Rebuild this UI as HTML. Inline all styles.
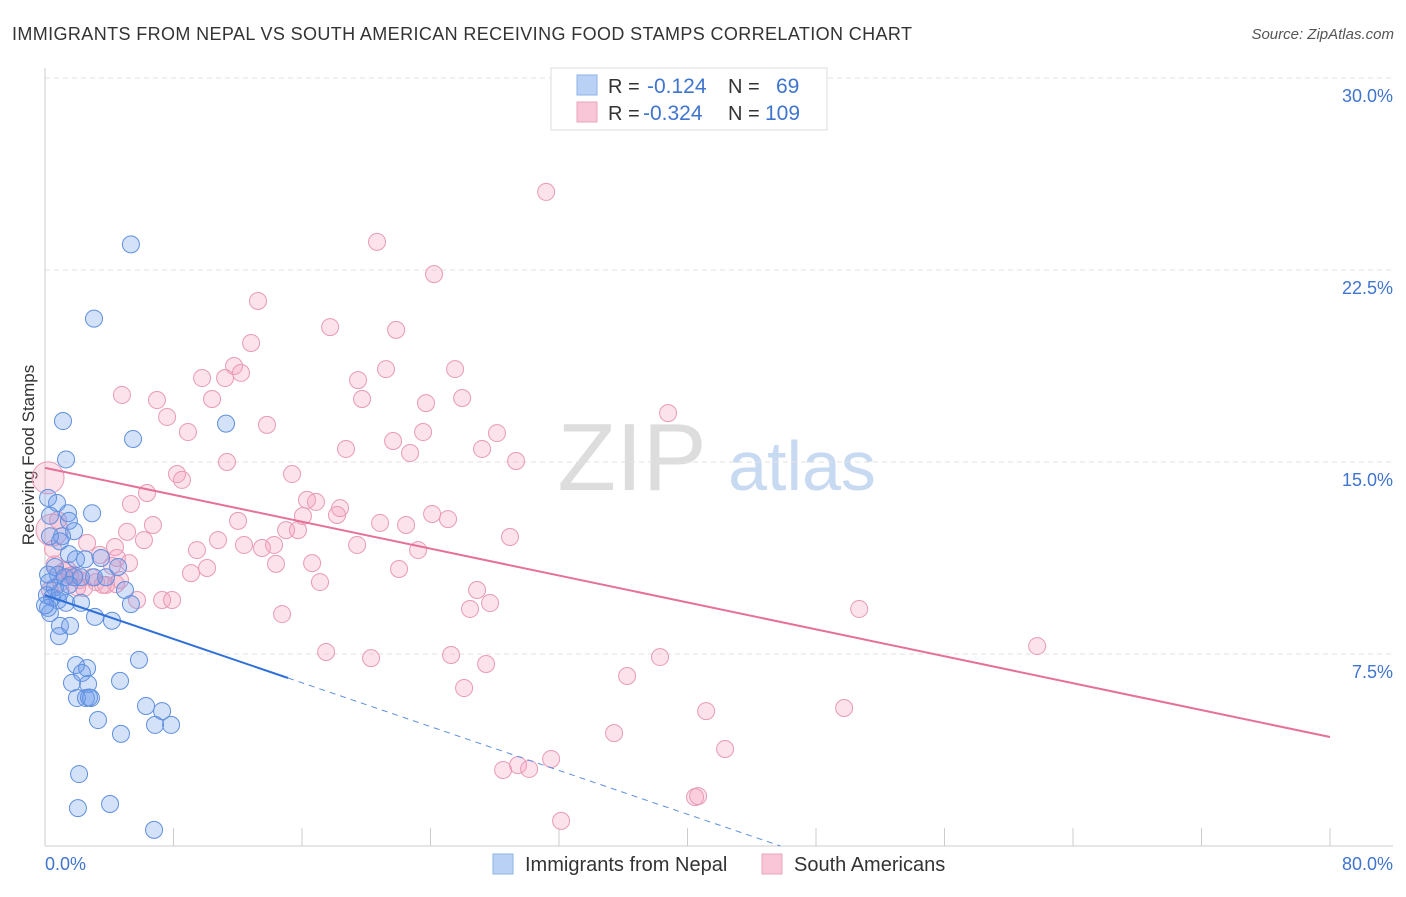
<!DOCTYPE html>
<html><head><meta charset="utf-8"><style>
body{margin:0;background:#fff;font-family:"Liberation Sans",sans-serif;}
svg text{font-family:"Liberation Sans",sans-serif;}
</style></head><body>
<svg id="c" width="1406" height="892" xmlns="http://www.w3.org/2000/svg">
<text x="12" y="40" font-size="18" fill="#333" textLength="900">IMMIGRANTS FROM NEPAL VS SOUTH AMERICAN RECEIVING FOOD STAMPS CORRELATION CHART</text>
<text x="1394" y="39" font-size="15" fill="#555" font-style="italic" text-anchor="end">Source: ZipAtlas.com</text>
<text x="0" y="0" transform="translate(34,455) rotate(-90)" font-size="17" fill="#333" text-anchor="middle">Receiving Food Stamps</text>
<g><text x="632" y="490" font-size="96" fill="#ddd" font-family="Liberation Serif" text-anchor="middle">ZIP</text><text x="802" y="490" font-size="70" fill="#c8daf2" text-anchor="middle">atlas</text></g>
<g id="grid"></g>
<g id="pts"></g>
<g id="lines"></g>
<g>
<rect x="551" y="68" width="276" height="62" fill="#fff" stroke="#ddd"/>
<rect x="577" y="75" width="20" height="20" fill="#b9d1f5" stroke="#8fb2e8"/>
<rect x="577" y="102" width="20" height="20" fill="#f8c6d6" stroke="#eca3bd"/>
<text x="608" y="93" font-size="20" fill="#333">R = </text><text x="647" y="93" font-size="21" fill="#3f74cf">-0.124</text>
<text x="728" y="93" font-size="20" fill="#333">N = </text><text x="776" y="93" font-size="21" fill="#3f74cf">69</text>
<text x="608" y="120" font-size="20" fill="#333">R = </text><text x="643" y="120" font-size="21" fill="#3f74cf">-0.324</text>
<text x="728" y="120" font-size="20" fill="#333">N = </text><text x="765" y="120" font-size="21" fill="#3f74cf">109</text>
</g>
<g>
<rect x="493" y="854" width="20" height="20" fill="#b9d1f5" stroke="#8fb2e8"/>
<text x="525" y="871" font-size="20" fill="#333">Immigrants from Nepal</text>
<rect x="762" y="854" width="20" height="20" fill="#f8c6d6" stroke="#eca3bd"/>
<text x="794" y="871" font-size="20" fill="#333">South Americans</text>
</g>
</svg>
<script>
const yTicks=[7.5,15,22.5,30];
const yTickLabels=["7.5%","15.0%","22.5%","30.0%"];
const xTickVals=[0,8,16,24,32,40,48,56,64,72,80];
const xEndLabels=["0.0%","80.0%"];
const nepalX=[5.35,3.05,1.12,11.27,5.48,1.31,0.19,0.75,0.31,1.43,2.93,1.49,1.81,1.06,0.93,0.31,1.49,1.93,2.49,3.49,0.62,4.55,0.81,1.25,1.81,2.24,3.05,3.8,0.25,0.62,4.98,0.12,0.44,0.81,1.31,2.24,5.35,0.31,3.11,4.17,0.93,1.56,0.87,5.85,1.93,2.62,2.3,1.68,2.68,4.67,1.99,2.55,2.86,6.29,7.29,3.3,6.85,7.85,4.73,2.12,2.05,4.05,6.79,0.19,0.0,0.19,0.93,2.74,1.5];
const nepalY=[23.5,20.6,16.6,16.5,15.9,15.1,13.6,13.4,12.9,13.0,13.0,12.7,12.3,12.1,11.9,12.1,11.4,11.2,11.2,11.25,10.9,10.9,10.6,10.5,10.5,10.5,10.5,10.5,10.3,10.1,10.0,9.8,9.7,9.6,9.5,9.5,9.45,9.1,8.95,8.8,8.6,8.6,8.2,7.27,7.07,6.95,6.76,6.37,6.33,6.45,5.78,5.78,5.78,5.47,5.27,4.92,4.73,4.73,4.38,2.81,1.48,1.64,0.63,9.3,9.4,10.6,9.9,5.8,10.2];
const saX=[31.2,20.67,24.22,13.26,17.75,21.86,12.83,11.77,9.78,11.21,12.2,4.79,6.97,19.49,21.23,25.53,19.74,10.4,23.72,25.97,38.79,7.6,8.9,13.82,23.54,28.14,21.67,18.74,27.21,22.73,11.33,29.33,8.22,8.53,15.38,6.35,5.35,16.31,16.87,18.37,18.18,24.1,25.09,12.02,6.72,5.11,20.86,22.48,15.01,15.75,16.06,28.95,4.36,6.16,2.62,10.77,12.39,13.51,14.26,19.43,23.23,9.46,3.42,4.48,4.17,5.23,14.38,16.63,22.04,10.09,9.09,1.18,1.56,2.18,3.18,3.8,4.42,4.67,2.43,17.12,26.9,5.73,7.29,7.91,27.71,26.46,14.76,50.69,61.77,17.5,20.3,25.28,38.29,27.46,36.24,26.09,41.16,49.75,35.43,42.34,31.51,29.45,28.52,30.14,40.47,40.66,32.13,0.81,1.8,2.9,3.6,0.6,1.0,1.4,2.0,0.5,0.3];
const saY=[25.55,23.6,22.34,21.29,20.27,20.16,19.65,18.75,18.28,18.28,18.48,17.62,17.42,18.2,18.63,18.63,17.46,17.46,17.3,17.5,16.91,16.76,16.17,16.45,16.17,16.13,15.82,15.51,15.51,15.35,15.0,15.04,14.53,14.3,14.53,13.79,13.36,13.52,13.44,13.2,12.93,12.97,12.77,12.7,12.54,12.27,12.62,12.54,12.34,12.34,12.89,12.07,11.68,11.95,11.84,11.95,11.76,11.64,11.76,11.76,11.56,11.56,11.37,11.25,10.94,11.05,11.02,11.05,10.82,10.86,10.66,10.74,10.55,10.39,10.31,10.2,10.23,10.39,10.08,10.31,10.0,9.61,9.61,9.61,9.49,9.26,9.06,9.26,7.81,7.58,7.34,7.46,7.38,7.11,6.64,6.17,5.27,5.39,4.41,3.79,3.4,3.16,2.97,3.01,1.91,1.95,0.98,12.73,10.6,10.5,10.2,11.0,10.3,10.8,10.1,11.6,10.0];
const saBigX=[0.19,0.44];
const saBigY=[14.38,12.34];
const nepalTrend=[9.8,-0.214];
const saTrend=[14.77,-0.1314];
const X0=45,X1=1330,Y0=846,Y1=78;
const xs=v=>X0+(v/80)*(X1-X0);
const ys=v=>Y0-(v/30)*(Y0-Y1);
const NS="http://www.w3.org/2000/svg";
function mk(t,a,p){const e=document.createElementNS(NS,t);for(const k in a)e.setAttribute(k,a[k]);p.appendChild(e);return e;}
const grid=document.getElementById('grid');
yTicks.forEach((v,i)=>{
 const l=mk('line',{x1:X0,x2:1393,y1:ys(v),y2:ys(v),stroke:'#e2e2e2','stroke-dasharray':'5,4'},grid);
 
 
 const t=mk('text',{x:1393,y:ys(v)+24,'font-size':18,fill:'#3f74cf','text-anchor':'end'},grid);
 t.textContent=yTickLabels[i];
 
 
});
const ax=mk('line',{x1:X0,x2:X0,y1:68,y2:Y0,stroke:'#ccc'},grid);


const bx=mk('line',{x1:X0,x2:1393,y1:Y0,y2:Y0,stroke:'#ccc'},grid);


xTickVals.forEach(v=>{
 const l=mk('line',{x1:xs(v),x2:xs(v),y1:828,y2:Y0,stroke:'#ccc'},grid);
 
 
});
[[0,'start',X0],[1,'end',1393]].forEach(([i,a,x])=>{
 const t=mk('text',{x:x,y:870,'font-size':18,fill:'#3f74cf','text-anchor':a},grid);
 t.textContent=xEndLabels[i];
 
 
});
const pts=document.getElementById('pts');
saX.forEach((x,i)=>{
 const c=mk('circle',{cx:xs(x),cy:ys(saY[i]),r:8.5,fill:'rgba(244,160,190,0.3)',stroke:'#e99ab7','stroke-width':1},pts);
 
 
});
saBigX.forEach((x,i)=>{
 const c=mk('circle',{cx:xs(x),cy:ys(saBigY[i]),r:16,fill:'rgba(244,160,190,0.3)',stroke:'#e99ab7','stroke-width':1},pts);
 
 
});
nepalX.forEach((x,i)=>{
 const c=mk('circle',{cx:xs(x),cy:ys(nepalY[i]),r:8.5,fill:'rgba(110,155,235,0.3)',stroke:'#5f90de','stroke-width':1},pts);
 
 
});
const lines=document.getElementById('lines');
const f=(t,x)=>t[0]+t[1]*x;
let l1=mk('line',{x1:xs(0),y1:ys(f(nepalTrend,0)),x2:xs(15.13),y2:ys(f(nepalTrend,15.13)),stroke:'#2f6fd8','stroke-width':2},lines);


const xe=-nepalTrend[0]/nepalTrend[1];
let l2=mk('line',{x1:xs(15.13),y1:ys(f(nepalTrend,15.13)),x2:xs(xe),y2:ys(0),stroke:'#5f90de','stroke-width':1,'stroke-dasharray':'6,5'},lines);


let l3=mk('line',{x1:xs(0),y1:ys(f(saTrend,0)),x2:xs(80),y2:ys(f(saTrend,80)),stroke:'#e5709a','stroke-width':2},lines);


</script>
</body></html>
